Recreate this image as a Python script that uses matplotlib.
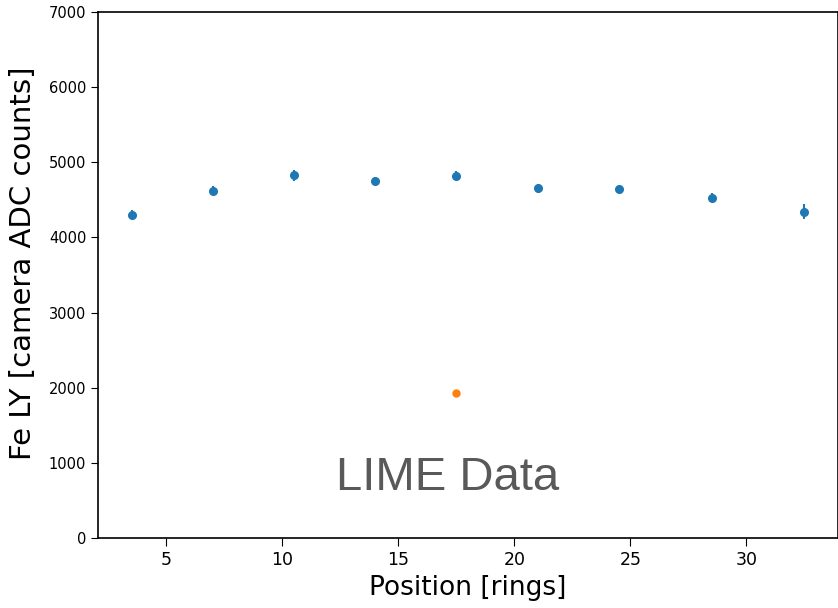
import numpy as np
import matplotlib
matplotlib.use("Agg")
import matplotlib.pyplot as plt

# LIME light yield vs position
position = [3.5, 7, 10.5, 14, 17.5, 21, 24.5, 28.5, 32.5]
light_yield = [4300, 4620, 4825, 4750, 4820, 4655, 4640, 4530, 4345]
ly_err = [60, 60, 70, 55, 60, 60, 55, 55, 100]

# single off-series point
pos_low = [17.5]
ly_low = [1930]
ly_low_err = [15]

fig = plt.figure(figsize=(8.38, 6.08), dpi=100)
ax = fig.add_axes([98 / 838, 70 / 608, 740 / 838, 526 / 608])

ax.errorbar(position, light_yield, yerr=ly_err, fmt='o', markersize=5.5, color='C0')
ax.errorbar(pos_low, ly_low, yerr=ly_low_err, fmt='o', markersize=5, color='C1')

ax.set_ylim(0, 7000)
ax.set_xticks([5, 10, 15, 20, 25, 30])
ax.tick_params(axis='x', labelsize=12.5, length=6)
ax.tick_params(axis='y', labelsize=10.5, length=5)
for s in ax.spines.values():
    s.set_linewidth(1.2)

ax.set_xlabel("Position [rings]", fontsize=19)
ax.set_ylabel("Fe LY [camera ADC counts]", fontsize=21)
ax.yaxis.set_label_coords(-0.082, 0.523)

ax.text(17.1, 640, "LIME Data", family="Liberation Sans", fontsize=34,
        color='#595959', ha='center', va='baseline')

fig.savefig("out.png", dpi=100)
